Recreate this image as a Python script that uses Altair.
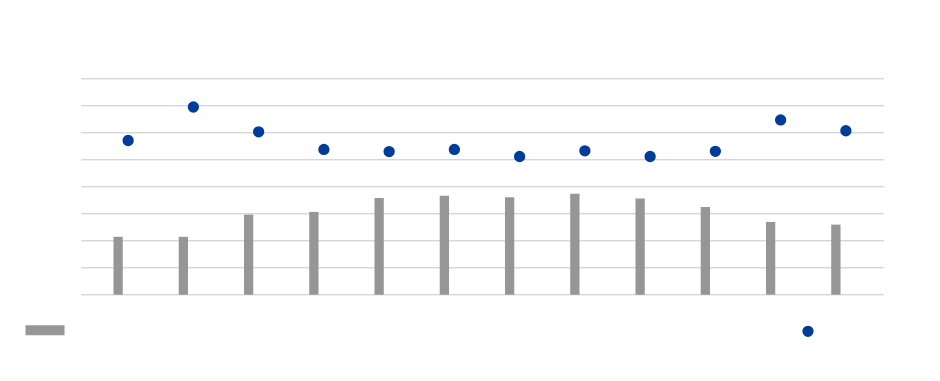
import altair as alt
import pandas as pd

months = ["Jan", "Feb", "Mar", "Apr", "May", "Jun", "Jul", "Aug", "Sep", "Oct", "Nov", "Dec"]
bar_values = [21.4, 21.4, 29.6, 30.6, 35.7, 36.6, 36.0, 37.3, 35.6, 32.4, 26.9, 25.9]
point_values = [5.70, 6.94, 6.02, 5.37, 5.29, 5.37, 5.11, 5.32, 5.11, 5.30, 6.46, 6.06]
bar_name = "Volume"
point_name = "Rate"
left_ticks = [0, 10, 20, 30, 40, 50, 60, 70, 80]
right_ticks = [0, 1, 2, 3, 4, 5, 6, 7, 8]

df = pd.DataFrame({
    "month": months,
    "bar": bar_values,
    "point": point_values,
    "bar_series": [bar_name] * len(months),
    "point_series": [point_name] * len(months),
})

GRID = "#c6c6c6"
GRAY = "#969696"
BLUE = "#003d9b"

xenc = alt.X(
    "month:N", sort=months, title=None,
    scale=alt.Scale(paddingInner=0, paddingOuter=0.15),
    axis=alt.Axis(labelColor="white", ticks=False, domain=False, grid=False, labelAngle=0),
)

bars = alt.Chart(df).mark_bar(width=9.3, xOffset=-5, color=GRAY).encode(
    x=xenc,
    y=alt.Y("bar:Q", title=None, scale=alt.Scale(domain=[0, 80], nice=False),
            axis=alt.Axis(values=left_ticks, grid=True, gridColor=GRID, gridWidth=1,
                          labelColor="white", ticks=False, domain=False)),
    color=alt.Color("bar_series:N", title=None,
                    scale=alt.Scale(domain=[bar_name], range=[GRAY]),
                    legend=alt.Legend(orient="none", legendX=-55.2, legendY=232.5,
                                      symbolType="M-1,-0.256H1V0.256H-1Z", symbolSize=1521,
                                      symbolStrokeWidth=0, labelColor="white", padding=0)),
)

points = alt.Chart(df).mark_circle(size=128, xOffset=5, opacity=1).encode(
    x=xenc,
    y=alt.Y("point:Q", title=None, scale=alt.Scale(domain=[0, 8], nice=False),
            axis=alt.Axis(values=right_ticks, grid=False, orient="right",
                          labelColor="white", ticks=False, domain=False)),
    fill=alt.Fill("point_series:N", title=None,
                  scale=alt.Scale(domain=[point_name], range=[BLUE]),
                  legend=alt.Legend(orient="none", legendX=721.3, legendY=247.0,
                                    symbolType="circle", symbolSize=128,
                                    symbolStrokeWidth=0, labelColor="white", padding=0)),
)

chart = alt.layer(bars, points).resolve_scale(y="independent").properties(
    width=802.6, height=216.4,
    autosize=alt.AutoSizeParams(type="none"),
    padding={"left": 72.7, "top": 70.3, "right": 40, "bottom": 60},
).configure_view(stroke=None)

chart.save("out.html", embed_options={"renderer": "svg", "actions": False})
